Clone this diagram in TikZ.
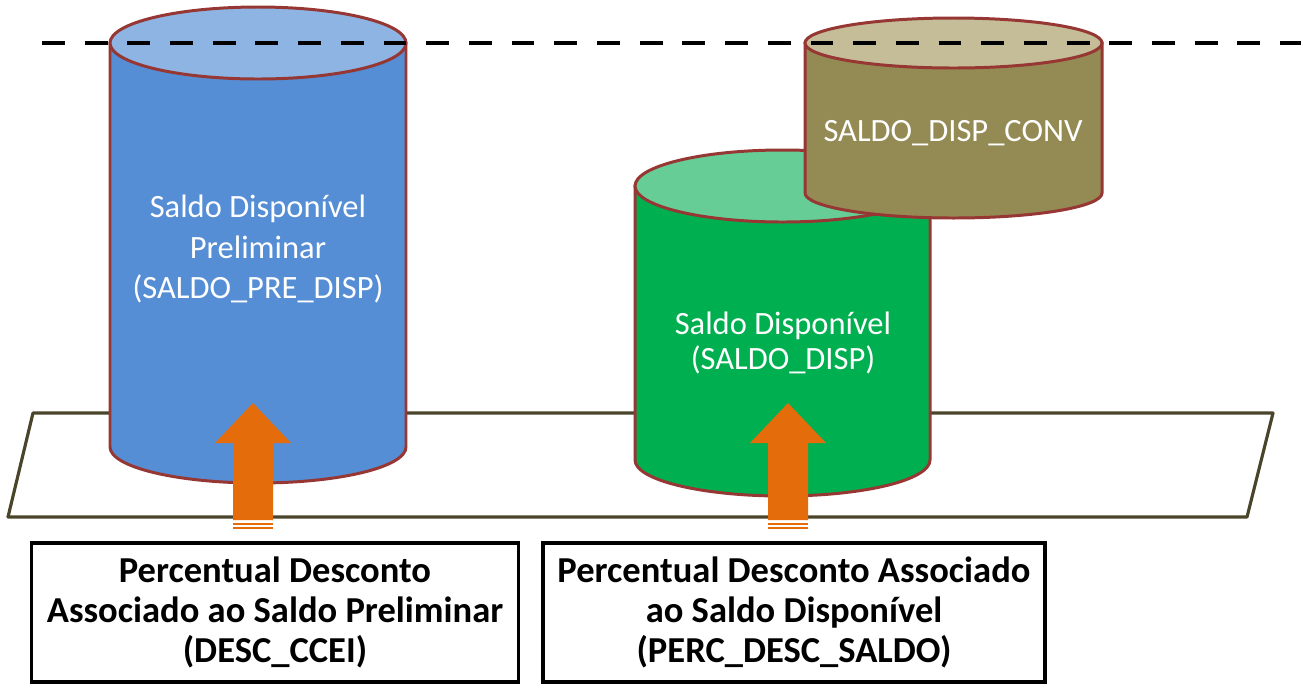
\documentclass[tikz,border=0pt]{standalone}
\usepackage{fontspec}
\setmainfont{Carlito}
\usetikzlibrary{calc}
\definecolor{rim}{RGB}{150,55,52}\definecolor{floorline}{RGB}{74,69,42}
\definecolor{blueB}{RGB}{85,142,213}\definecolor{blueT}{RGB}{142,180,227}
\definecolor{greenB}{RGB}{0,176,80}\definecolor{greenT}{RGB}{102,205,150}
\definecolor{oliveB}{RGB}{148,138,84}\definecolor{oliveT}{RGB}{196,189,151}
\definecolor{arrowor}{RGB}{228,108,10}
\tikzset{every node/.style={font=\fontsize{18.5}{23}\selectfont},
  cylrim/.style={draw=rim,line width=1.7pt},
  cyltext/.style={text=white,align=center},
  descbox/.style={draw,line width=1.9pt,align=center,minimum width=9.74cm,minimum height=2.78cm,font=\fontsize{20.8}{22.7}\selectfont\bfseries},
  uparrow/.style={fill=arrowor,draw=none}}

\begin{document}
\begin{tikzpicture}[x=0.02cm,y=-0.02cm]
\useasboundingbox (0,0) rectangle (1301,684);
\draw[floorline,line width=1.8pt,line join=round,fill=white] (33,413)--(1273,413)--(1247,517)--(8,517)--cycle;
% cylinders: left/right/top/bottom/ry/colours
\foreach \xl/\xr/\yt/\yb/\ry/\body/\lid in {110/406/43/447/36/blueB/blueT,635/930/186/460/36/greenB/greenT,805/1102/43/193/25/oliveB/oliveT}{
\draw[cylrim,fill=\body] (\xl,\yt)--(\xl,\yb) arc[start angle=180,end angle=0,x radius={(\xr-\xl)/2},y radius=\ry]--(\xr,\yt)--cycle;
\draw[cylrim,fill=\lid] ({(\xl+\xr)/2},\yt) ellipse[x radius={(\xr-\xl)/2},y radius=\ry];}
\draw[line width=2.3pt,dash pattern=on 13pt off 11.3pt] (42,43)--(1301,43);
\node[cyltext] (pre) at (258,249){Saldo Disponível\\Preliminar\\(SALDO\_PRE\_DISP)};
\node[cyltext,font=\fontsize{18.5}{20}\selectfont] (disp) at (783,343){Saldo Disponível\\(SALDO\_DISP)};
\node[cyltext] (conv) at (953,133){SALDO\_DISP\_CONV};
\node[descbox] (descA) at (275,612.5){Percentual Desconto\\Associado ao Saldo Preliminar\\(DESC\_CCEI)};
\node[descbox,minimum width=10.04cm] (descB) at (794,612.5){Percentual Desconto Associado\\ao Saldo Disponível\\(PERC\_DESC\_SALDO)};
% block arrows
\foreach \ax in {253,788}{
\fill[uparrow] (\ax,403)--(\ax+38,443)--(\ax+20,443)--(\ax+20,520)--(\ax-20,520)--(\ax-20,443)--(\ax-38,443)--cycle;
\fill[uparrow] (\ax-20,522.5) rectangle (\ax+20,524.5);\fill[uparrow] (\ax-20,526.5) rectangle (\ax+20,528.5);}
\end{tikzpicture}
\end{document}
